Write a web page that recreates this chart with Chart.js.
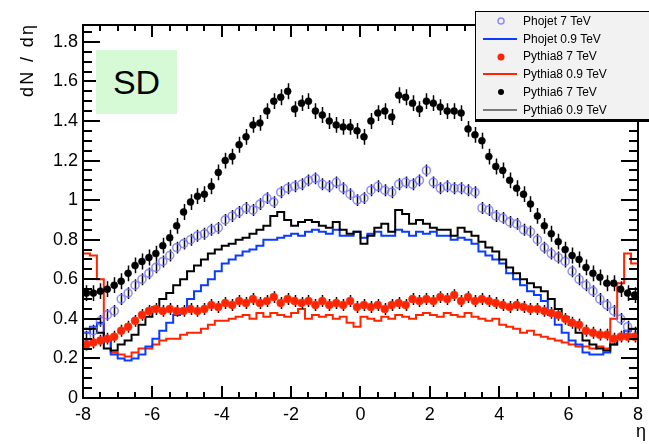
<!DOCTYPE html>
<html>
<head>
<meta charset="utf-8">
<script src="https://cdn.jsdelivr.net/npm/chart.js@4.4.1/dist/chart.umd.min.js"></script>
<style>
  html, body { margin: 0; padding: 0; background: #fff; }
  #wrap { position: relative; width: 649px; height: 444px; overflow: hidden; }
  #c { position: absolute; left: 0; top: 0; }
  .sd { position: absolute; left: 96px; top: 50px; width: 81px; height: 64px; background: #d6fad6;
        font-family: "Liberation Sans", Arial, sans-serif; font-size: 34px; color: #000;
        display: flex; align-items: center; justify-content: center; }
  .legend { position: absolute; left: 475px; top: 11px; width: 190px; height: 107px; background: #f2f2f2;
            border: 1px solid #000; box-shadow: 0 2px 0 #000; z-index: 5; }
  .row { height: 17.8px; display: flex; align-items: center; font-family: "Liberation Sans", Arial, sans-serif;
         font-size: 12px; color: #000; white-space: nowrap; }
  .row svg { flex: none; }
  .row span { margin-left: 1px; }
</style>
</head>
<body>
<div id="wrap">
  <canvas id="c" width="649" height="444"></canvas>
  <div class="sd">SD</div>
  <div class="legend" id="legend"></div>
</div>
<script>
// ---------------- data ----------------
const BIN_WIDTH = 0.2;
const ETA = [-7.9,-7.7,-7.5,-7.3,-7.1,-6.9,-6.7,-6.5,-6.3,-6.1,
             -5.9,-5.7,-5.5,-5.3,-5.1,-4.9,-4.7,-4.5,-4.3,-4.1,
             -3.9,-3.7,-3.5,-3.3,-3.1,-2.9,-2.7,-2.5,-2.3,-2.1,
             -1.9,-1.7,-1.5,-1.3,-1.1,-0.9,-0.7,-0.5,-0.3,-0.1,
              0.1, 0.3, 0.5, 0.7, 0.9, 1.1, 1.3, 1.5, 1.7, 1.9,
              2.1, 2.3, 2.5, 2.7, 2.9, 3.1, 3.3, 3.5, 3.7, 3.9,
              4.1, 4.3, 4.5, 4.7, 4.9, 5.1, 5.3, 5.5, 5.7, 5.9,
              6.1, 6.3, 6.5, 6.7, 6.9, 7.1, 7.3, 7.5, 7.7, 7.9];

const phojet7 = [0.31,0.34,0.39,0.42,0.44,0.50,0.53,0.57,0.60,0.63,
                 0.66,0.69,0.72,0.76,0.78,0.80,0.82,0.83,0.85,0.86,
                 0.90,0.92,0.94,0.96,0.95,0.98,1.01,0.99,1.04,1.06,
                 1.07,1.08,1.10,1.11,1.08,1.07,1.09,1.06,1.03,1.00,
                 1.01,1.05,1.07,1.05,1.04,1.08,1.09,1.08,1.10,1.15,
                 1.09,1.06,1.07,1.06,1.06,1.05,1.04,0.96,0.95,0.92,
                 0.91,0.89,0.88,0.85,0.84,0.80,0.76,0.73,0.71,0.69,
                 0.64,0.60,0.57,0.54,0.50,0.47,0.44,0.40,0.36,0.33];

const phojet09 = [0.33,0.36,0.38,0.30,0.22,0.20,0.19,0.20,0.22,0.26,
                  0.30,0.34,0.38,0.42,0.45,0.50,0.54,0.57,0.60,0.64,
                  0.68,0.70,0.72,0.74,0.75,0.77,0.80,0.80,0.81,0.82,
                  0.83,0.82,0.84,0.85,0.84,0.83,0.85,0.82,0.82,0.84,
                  0.81,0.83,0.84,0.82,0.82,0.85,0.84,0.82,0.84,0.83,
                  0.84,0.82,0.82,0.80,0.81,0.80,0.78,0.74,0.72,0.70,
                  0.68,0.63,0.60,0.57,0.54,0.52,0.49,0.42,0.37,0.33,
                  0.29,0.27,0.23,0.22,0.22,0.23,0.27,0.31,0.34,0.35];

const pythia8_7 = [0.27,0.28,0.29,0.30,0.31,0.34,0.36,0.39,0.42,0.44,
                   0.45,0.44,0.45,0.44,0.44,0.45,0.44,0.45,0.47,0.46,
                   0.48,0.47,0.49,0.48,0.50,0.48,0.49,0.51,0.48,0.50,
                   0.49,0.48,0.49,0.47,0.49,0.47,0.48,0.47,0.49,0.46,
                   0.47,0.46,0.47,0.45,0.47,0.48,0.47,0.50,0.49,0.50,
                   0.49,0.51,0.50,0.52,0.49,0.51,0.49,0.50,0.49,0.48,
                   0.47,0.46,0.47,0.46,0.45,0.45,0.44,0.43,0.42,0.40,
                   0.38,0.37,0.34,0.33,0.32,0.32,0.30,0.31,0.31,0.31];

const pythia8_09 = [0.73,0.72,0.60,0.30,0.23,0.22,0.21,0.23,0.25,0.25,
                    0.27,0.29,0.30,0.30,0.32,0.33,0.33,0.35,0.37,0.39,
                    0.39,0.40,0.41,0.42,0.40,0.43,0.41,0.43,0.42,0.41,
                    0.43,0.45,0.40,0.42,0.41,0.42,0.40,0.41,0.38,0.36,
                    0.41,0.40,0.39,0.41,0.40,0.42,0.41,0.40,0.42,0.43,
                    0.42,0.41,0.43,0.42,0.41,0.43,0.41,0.40,0.39,0.40,
                    0.37,0.36,0.35,0.33,0.34,0.32,0.31,0.30,0.29,0.28,
                    0.27,0.26,0.26,0.25,0.26,0.25,0.40,0.58,0.73,0.68];

const pythia6_7 = [0.53,0.53,0.54,0.55,0.57,0.59,0.63,0.67,0.69,0.71,
                   0.73,0.77,0.81,0.87,0.94,0.99,1.02,1.03,1.07,1.14,
                   1.20,1.22,1.28,1.32,1.38,1.39,1.45,1.50,1.52,1.55,
                   1.46,1.49,1.50,1.45,1.43,1.40,1.38,1.37,1.37,1.35,
                   1.32,1.40,1.44,1.45,1.42,1.53,1.52,1.49,1.46,1.50,
                   1.49,1.47,1.45,1.45,1.44,1.36,1.33,1.30,1.22,1.17,
                   1.15,1.10,1.06,1.03,0.98,0.92,0.87,0.83,0.79,0.75,
                   0.72,0.70,0.66,0.63,0.61,0.58,0.58,0.55,0.53,0.52];

const pythia6_09 = [0.35,0.35,0.33,0.25,0.24,0.27,0.29,0.32,0.37,0.41,
                    0.46,0.50,0.53,0.57,0.60,0.64,0.67,0.70,0.73,0.75,
                    0.77,0.78,0.80,0.81,0.83,0.85,0.87,0.92,0.94,0.90,
                    0.87,0.89,0.90,0.89,0.87,0.86,0.89,0.85,0.83,0.84,
                    0.78,0.82,0.86,0.88,0.84,0.95,0.93,0.88,0.90,0.88,
                    0.86,0.85,0.85,0.82,0.86,0.84,0.82,0.79,0.76,0.74,
                    0.70,0.66,0.63,0.60,0.58,0.56,0.54,0.50,0.45,0.41,
                    0.37,0.33,0.29,0.27,0.25,0.24,0.27,0.31,0.32,0.32];

// statistical error half-heights (approximate, from the picture)
const ERR_PYTHIA6_7 = 0.04;
const ERR_PHOJET_7 = 0.03;
const ERR_PYTHIA8_7 = 0.03;

const LABELS = ["Phojet 7 TeV", "Phojet 0.9 TeV", "Pythia8 7 TeV", "Pythia8 0.9 TeV", "Pythia6 7 TeV", "Pythia6 0.9 TeV"];
const X_TICKS = [-8, -6, -4, -2, 0, 2, 4, 6, 8];
const Y_TICKS = [0, 0.2, 0.4, 0.6, 0.8, 1, 1.2, 1.4, 1.6, 1.8];
const Y_MAX = 1.885;
const X_TITLE = "η";
const Y_TITLE = "dN / dη";

// ---------------- colours ----------------
const C_BLUE = '#0a3cff';
const C_LBLUE = 'rgba(110,110,255,0.75)';
const C_RED = '#ff2400';
const C_BLACK = '#000000';

// ---------------- helpers ----------------
const points = vals => ETA.map((e, i) => ({ x: e, y: vals[i] }));
const histo = vals => {
  const d = ETA.map((e, i) => ({ x: e - BIN_WIDTH / 2, y: vals[i] }));
  d.push({ x: ETA[ETA.length - 1] + BIN_WIDTH / 2, y: vals[vals.length - 1] });
  return d;
};

const FONT = { family: '"Liberation Sans", Arial, Helvetica, sans-serif', size: 18 };

// draw a string char by char, spread so it spans `span` pixels
function spreadText(ctx, text, x, y, span) {
  const chars = Array.from(text);
  const widths = chars.map(c => ctx.measureText(c).width);
  const total = widths.reduce((a, b) => a + b, 0);
  const gap = chars.length > 1 ? (span - total) / (chars.length - 1) : 0;
  let cx = x;
  chars.forEach((c, i) => { ctx.fillText(c, cx, y); cx += widths[i] + gap; });
}

const rootStyle = {
  id: 'rootStyle',
  beforeDatasetDraw(chart, args) {
    const ds = chart.data.datasets[args.index];
    if (ds.errHalf === undefined) return;
    const ctx = chart.ctx, xs = chart.scales.x, ys = chart.scales.y;
    ctx.save();
    ctx.strokeStyle = '#000';
    ctx.lineWidth = ds.errWidth || 1;
    ctx.beginPath();
    ds.data.forEach(p => {
      const px = Math.round(xs.getPixelForValue(p.x)) + 0.5;
      ctx.moveTo(px, ys.getPixelForValue(p.y - ds.errHalf));
      ctx.lineTo(px, ys.getPixelForValue(p.y + ds.errHalf));
    });
    ctx.stroke();
    ctx.restore();
  },
  afterDraw(chart) {
    const ctx = chart.ctx, xs = chart.scales.x, ys = chart.scales.y;
    const { left, right, top, bottom } = chart.chartArea;
    ctx.save();
    ctx.strokeStyle = '#000';
    ctx.lineWidth = 2;
    ctx.strokeRect(left, top, right - left, bottom - top);
    ctx.beginPath();
    // x ticks: major every 2, minor every 0.5
    for (let k = -16; k <= 16; k++) {
      const v = k * 0.5;
      const px = Math.round(xs.getPixelForValue(v));
      const L = (k % 4 === 0) ? 12 : 6;
      ctx.moveTo(px, bottom); ctx.lineTo(px, bottom - L);
      ctx.moveTo(px, top); ctx.lineTo(px, top + L);
    }
    // y ticks: major every 0.2, minor every 0.05
    for (let k = 0; k * 0.05 <= Y_MAX + 1e-9; k++) {
      const v = k * 0.05;
      const py = Math.round(ys.getPixelForValue(v));
      const L = (k % 4 === 0) ? 17 : 9;
      ctx.moveTo(left, py); ctx.lineTo(left + L, py);
      ctx.moveTo(right, py); ctx.lineTo(right - L, py);
    }
    ctx.stroke();
    // axis titles
    ctx.fillStyle = '#000';
    ctx.font = '18px "Liberation Sans", Arial, sans-serif';
    ctx.textAlign = 'right';
    ctx.textBaseline = 'alphabetic';
    ctx.fillText(X_TITLE, 646, 437);
    ctx.textAlign = 'left';
    ctx.translate(33, 97);
    ctx.rotate(-Math.PI / 2);
    spreadText(ctx, Y_TITLE, 0, 0, 72);
    ctx.restore();
  }
};

const datasets = [
  { label: LABELS[4], data: points(pythia6_7), pointStyle: 'circle', pointRadius: 3.5, pointBackgroundColor: C_BLACK,
    pointBorderColor: 'rgba(0,0,0,0.55)', pointBorderWidth: 1, showLine: false, errHalf: ERR_PYTHIA6_7, errWidth: 1.5 },
  { label: LABELS[2], data: points(pythia8_7), pointStyle: 'circle', pointRadius: 4, pointBackgroundColor: C_RED,
    pointBorderColor: 'rgba(255,60,30,0.6)', pointBorderWidth: 1, showLine: false, errHalf: ERR_PYTHIA8_7, errWidth: 1.5 },
  { label: LABELS[0], data: points(phojet7), pointStyle: 'circle', pointRadius: 4, pointBackgroundColor: 'rgba(255,255,255,0)',
    pointBorderColor: C_LBLUE, pointBorderWidth: 1.6, showLine: false, errHalf: ERR_PHOJET_7, errWidth: 1.5 },
  { label: LABELS[5], data: histo(pythia6_09), showLine: true, stepped: 'before', borderColor: C_BLACK, borderWidth: 2,
    pointRadius: 0, fill: false },
  { label: LABELS[1], data: histo(phojet09), showLine: true, stepped: 'before', borderColor: C_BLUE, borderWidth: 2,
    pointRadius: 0, fill: false },
  { label: LABELS[3], data: histo(pythia8_09), showLine: true, stepped: 'before', borderColor: C_RED, borderWidth: 2,
    pointRadius: 0, fill: false }
];

new Chart(document.getElementById('c'), {
  type: 'scatter',
  data: { datasets },
  options: {
    responsive: false,
    devicePixelRatio: 1,
    animation: false,
    events: [],
    layout: { padding: { top: 25, right: 6, left: 0, bottom: 0 } },
    plugins: { legend: { display: false }, tooltip: { enabled: false } },
    scales: {
      x: {
        type: 'linear', min: -8, max: 8,
        afterBuildTicks: s => { s.ticks = X_TICKS.map(v => ({ value: v })); },
        ticks: { font: FONT, color: '#000', padding: 6, autoSkip: false, maxRotation: 0,
                 callback: v => String(v) },
        grid: { display: false, drawTicks: false },
        border: { display: false },
        afterFit: s => { s.height = 46; }
      },
      y: {
        type: 'linear', min: 0, max: Y_MAX,
        afterBuildTicks: s => { s.ticks = Y_TICKS.map(v => ({ value: v })); },
        ticks: { font: FONT, color: '#000', padding: 5, autoSkip: false,
                 callback: v => String(+(+v).toFixed(2)) },
        grid: { display: false, drawTicks: false },
        border: { display: false },
        afterFit: s => { s.width = 83; }
      }
    }
  },
  plugins: [rootStyle]
});

// ---------------- legend (HTML overlay) ----------------
const LEGEND_SYMBOLS = [
  '<circle cx="25" cy="9" r="3" fill="none" stroke="' + C_LBLUE + '" stroke-width="1.5"/>',
  '<line x1="7" y1="9" x2="41" y2="9" stroke="' + C_BLUE + '" stroke-width="2"/>',
  '<circle cx="25" cy="9" r="3.5" fill="' + C_RED + '"/>',
  '<line x1="7" y1="9" x2="41" y2="9" stroke="' + C_RED + '" stroke-width="2"/>',
  '<circle cx="25" cy="9" r="3" fill="#000"/>',
  '<line x1="7" y1="9" x2="41" y2="9" stroke="#000" stroke-width="1"/>'
];
const legend = document.getElementById('legend');
LABELS.forEach((lab, i) => {
  const row = document.createElement('div');
  row.className = 'row';
  row.innerHTML = '<svg width="46" height="18" viewBox="0 0 46 18">' + LEGEND_SYMBOLS[i] + '</svg><span></span>';
  row.querySelector('span').textContent = lab;
  legend.appendChild(row);
});
</script>
</body>
</html>
